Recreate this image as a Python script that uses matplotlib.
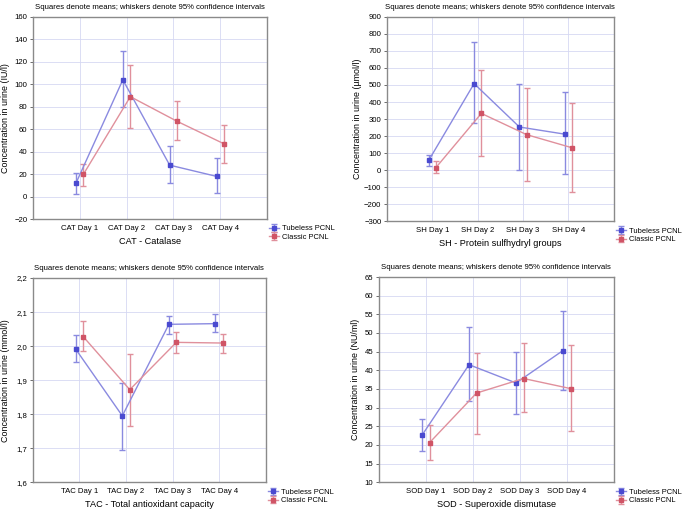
import matplotlib.pyplot as plt
import numpy as np
from matplotlib.ticker import FuncFormatter

plt.rcParams['font.family'] = ['Liberation Sans Narrow', 'Liberation Sans', 'DejaVu Sans']

# --- data ---
cat_days = ["CAT Day 1", "CAT Day 2", "CAT Day 3", "CAT Day 4"]
cat_tub = [12, 104, 28, 18]
cat_tub_lo = [2, 80, 12, 3]
cat_tub_hi = [21, 130, 45, 34]
cat_cla = [20, 89, 67, 47]
cat_cla_lo = [9, 61, 50, 30]
cat_cla_hi = [29, 117, 85, 64]

sh_days = ["SH Day 1", "SH Day 2", "SH Day 3", "SH Day 4"]
sh_tub = [57, 508, 253, 211]
sh_tub_lo = [25, 274, -1, -25]
sh_tub_hi = [91, 752, 508, 459]
sh_cla = [15, 333, 208, 131]
sh_cla_lo = [-19, 80, -66, -131]
sh_cla_hi = [54, 591, 481, 392]

tac_days = ["TAC Day 1", "TAC Day 2", "TAC Day 3", "TAC Day 4"]
tac_tub = [1.991, 1.795, 2.064, 2.066]
tac_tub_lo = [1.953, 1.696, 2.036, 2.040]
tac_tub_hi = [2.032, 1.891, 2.089, 2.093]
tac_cla = [2.028, 1.872, 2.011, 2.009]
tac_cla_lo = [1.985, 1.765, 1.981, 1.980]
tac_cla_hi = [2.074, 1.976, 2.040, 2.037]

sod_days = ["SOD Day 1", "SOD Day 2", "SOD Day 3", "SOD Day 4"]
sod_tub = [22.6, 41.5, 36.6, 45.3]
sod_tub_lo = [18.3, 31.7, 28.4, 34.6]
sod_tub_hi = [27.0, 51.6, 45.0, 56.0]
sod_cla = [20.6, 33.9, 37.8, 35.1]
sod_cla_lo = [15.9, 23.0, 28.8, 23.6]
sod_cla_hi = [25.3, 44.7, 47.3, 46.8]

BLUE_LINE = "#8a8ae0"
BLUE_MARK = "#4a4ad0"
RED_LINE = "#e0909c"
RED_MARK = "#d05466"
GRID = "#d6d8f2"

W, H = 685, 513
fig = plt.figure(figsize=(6.85, 5.13), dpi=100)


def panel(rect, days, tub, tlo, thi, cla, clo, chi, ylim, step, ylabel, xlabel,
          ylab_x, fmt=None):
    ax = fig.add_axes(rect)
    x = np.arange(1, 5)
    off = 0.08
    for xs, m, lo, hi, lc, mc, lab in [
        (x - off, tub, tlo, thi, BLUE_LINE, BLUE_MARK, "Tubeless PCNL"),
        (x + off, cla, clo, chi, RED_LINE, RED_MARK, "Classic PCNL"),
    ]:
        m = np.array(m)
        err = [m - np.array(lo), np.array(hi) - m]
        ax.errorbar(xs, m, yerr=err, color=lc, ecolor=lc, lw=1.0, elinewidth=1.0,
                    capsize=2, capthick=1.0, marker="s", ms=2.8, mfc=mc, mec=mc, label=lab)
    ax.set_xlim(0, 5)
    ax.set_ylim(*ylim)
    ax.set_yticks(np.arange(ylim[0], ylim[1] + step / 2, step))
    if fmt:
        ax.yaxis.set_major_formatter(FuncFormatter(fmt))
    ax.set_xticks(x)
    ax.set_xticklabels(days)
    ax.grid(True, color=GRID, lw=0.6)
    ax.set_axisbelow(True)
    for s in ax.spines.values():
        s.set_color("#8a8a8a")
        s.set_linewidth(1.0)
    ax.tick_params(axis="both", labelsize=5.6, length=2, width=0.6, color="#555555", pad=2)
    ax.tick_params(axis="x", length=0, pad=4)
    ax.set_title("Squares denote means; whiskers denote 95% confidence intervals",
                 fontsize=5.6, pad=6)
    ax.set_ylabel(ylabel, fontsize=6.4)
    ax.yaxis.label.set_va("center")
    ax.yaxis.set_label_coords((ylab_x - rect[0] * W) / (rect[2] * W), 0.5)
    ax.set_xlabel(xlabel, fontsize=6.6, labelpad=4)
    ax.legend(loc="lower left", bbox_to_anchor=(0.99, -0.13), fontsize=5.4,
              frameon=False, handlelength=1.3, handletextpad=0.4, labelspacing=0.15,
              borderpad=0.1)
    return ax


panel([0.048, 0.573, 0.342, 0.394], cat_days, cat_tub, cat_tub_lo, cat_tub_hi,
      cat_cla, cat_cla_lo, cat_cla_hi, (-20, 160), 20,
      "Concentration in urine (IU/l)", "CAT - Catalase", 6)
panel([0.565, 0.569, 0.331, 0.398], sh_days, sh_tub, sh_tub_lo, sh_tub_hi,
      sh_cla, sh_cla_lo, sh_cla_hi, (-300, 900), 100,
      "Concentration in urine (µmol/l)", "SH - Protein sulfhydryl groups", 358)
panel([0.048, 0.060, 0.340, 0.398], tac_days, tac_tub, tac_tub_lo, tac_tub_hi,
      tac_cla, tac_cla_lo, tac_cla_hi, (1.6, 2.2), 0.1,
      "Concentration in urine (mmol/l)", "TAC - Total antioxidant capacity", 6,
      fmt=lambda v, p: f"{v:.1f}".replace(".", ","))
panel([0.553, 0.060, 0.343, 0.400], sod_days, sod_tub, sod_tub_lo, sod_tub_hi,
      sod_cla, sod_cla_lo, sod_cla_hi, (10, 65), 5,
      "Concentration in urine (NU/ml)", "SOD - Superoxide dismutase", 355)

fig.savefig("out.png", dpi=100)
